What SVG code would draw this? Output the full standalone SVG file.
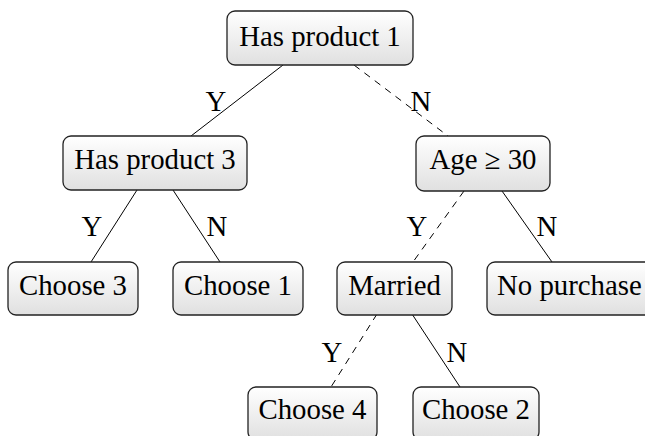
<svg xmlns="http://www.w3.org/2000/svg" width="645" height="436" viewBox="0 0 645 436">
<defs>
<linearGradient id="g" x1="0" y1="0" x2="0" y2="1">
<stop offset="0" stop-color="#ffffff"/>
<stop offset="1" stop-color="#e0e0e0"/>
</linearGradient>
</defs>
<style>
.box{fill:url(#g);stroke:#222;stroke-width:1.3}
.t{font-family:"Liberation Serif","Times New Roman",serif;font-size:28.8px;fill:#000;text-anchor:middle}
.e{stroke:#000;stroke-width:1;fill:none}
.d{stroke-dasharray:7,6}
</style>
<rect width="645" height="436" fill="#fff"/>
<g id="connectors">
<line class="e" x1="283" y1="65" x2="191" y2="136"/>
<line class="e d" x1="354" y1="65" x2="448" y2="136"/>
<line class="e" x1="137" y1="190" x2="91" y2="262"/>
<line class="e" x1="173" y1="190" x2="220" y2="262"/>
<line class="e d" x1="464" y1="191" x2="413" y2="262"/>
<line class="e" x1="502" y1="191" x2="552" y2="262"/>
<line class="e d" x1="377" y1="314" x2="331" y2="387"/>
<line class="e" x1="412" y1="314" x2="460" y2="387"/>
<text class="t" x="216" y="111">Y</text>
<text class="t" x="421" y="111">N</text>
<text class="t" x="92" y="236">Y</text>
<text class="t" x="217" y="236">N</text>
<text class="t" x="417" y="236">Y</text>
<text class="t" x="547" y="236">N</text>
<text class="t" x="332" y="362">Y</text>
<text class="t" x="457" y="362">N</text>
</g>
<g id="n1"><rect class="box" x="227" y="11" width="186" height="54" rx="8"/><text class="t" x="320" y="46">Has product 1</text></g>
<g id="n3"><rect class="box" x="63" y="136" width="184" height="54" rx="8"/><text class="t" x="155" y="169">Has product 3</text></g>
<g id="age"><rect class="box" x="416" y="136" width="134" height="55" rx="8"/><text class="t" x="483" y="169">Age ≥ 30</text></g>
<g id="c3"><rect class="box" x="8" y="262" width="130" height="53" rx="8"/><text class="t" x="73" y="295">Choose 3</text></g>
<g id="c1"><rect class="box" x="173" y="262" width="130" height="53" rx="8"/><text class="t" x="238" y="295">Choose 1</text></g>
<g id="married"><rect class="box" x="337" y="262" width="115" height="53" rx="8"/><text class="t" x="394.5" y="295">Married</text></g>
<g id="np"><rect class="box" x="487" y="262" width="166" height="53" rx="8"/><text class="t" x="497" y="295" style="text-anchor:start">No purchase</text></g>
<g id="c4"><rect class="box" x="248" y="387" width="129" height="53" rx="8"/><text class="t" x="312.5" y="419">Choose 4</text></g>
<g id="c2"><rect class="box" x="413" y="387" width="126" height="53" rx="8"/><text class="t" x="476" y="419">Choose 2</text></g>
</svg>
